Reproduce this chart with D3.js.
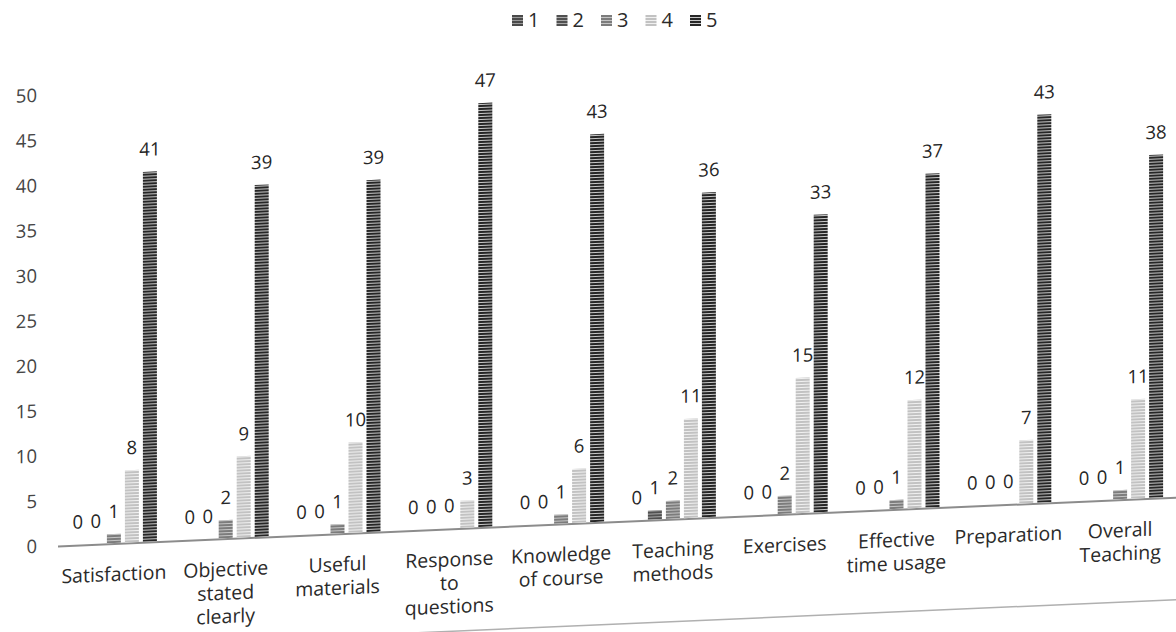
<!DOCTYPE html>
<html>
<head>
<meta charset="utf-8">
<script src="https://cdn.jsdelivr.net/npm/d3@7/dist/d3.min.js"></script>
<style>
  html, body { margin: 0; padding: 0; background: #ffffff; }
  svg { display: block; }
  text { font-family: "Open Sans", "Lato", sans-serif; }
</style>
</head>
<body>
<svg id="chart" width="1176" height="632"></svg>
<script>
// Course evaluation: number of responses per rating (1-5) for each item
const categories = [
  "Satisfaction",
  "Objective\nstated\nclearly",
  "Useful\nmaterials",
  "Response\nto\nquestions",
  "Knowledge\nof course",
  "Teaching\nmethods",
  "Exercises",
  "Effective\ntime usage",
  "Preparation",
  "Overall\nTeaching"
];
const ratings = ["1", "2", "3", "4", "5"];
const rating1 = [0, 0, 0, 0, 0, 0, 0, 0, 0, 0];
const rating2 = [0, 0, 0, 0, 0, 1, 0, 0, 0, 0];
const rating3 = [1, 2, 1, 0, 1, 2, 2, 1, 0, 1];
const rating4 = [8, 9, 10, 3, 6, 11, 15, 12, 7, 11];
const rating5 = [41, 39, 39, 47, 43, 36, 33, 37, 43, 38];
const yTicks = [0, 5, 10, 15, 20, 25, 30, 35, 40, 45, 50];

const seriesValues = [rating1, rating2, rating3, rating4, rating5];
const rows = categories.map((c, i) => ({
  category: c,
  values: ratings.map((r, k) => ({ rating: r, value: seriesValues[k][i] }))
}));

const svg = d3.select("#chart");
const defs = svg.append("defs");

// striped fills, one per rating
const fills = [
  { base: "#4a4a4a", line: "#9a9a9a" },
  { base: "#505050", line: "#a8a8a8" },
  { base: "#7c7c7c", line: "#c4c4c4" },
  { base: "#c2c2c2", line: "#f0f0f0" },
  { base: "#262626", line: "#c8c8c8" }
];
fills.forEach((f, k) => {
  const p = defs.append("pattern")
    .attr("id", "fill" + k)
    .attr("patternUnits", "userSpaceOnUse")
    .attr("width", 6).attr("height", 3);
  p.append("rect").attr("width", 6).attr("height", 3).attr("fill", f.base);
  p.append("rect").attr("y", 2).attr("width", 6).attr("height", 1).attr("fill", f.line);
});

// the plot sits on a slightly tilted page
const tilt = -2.5;
const g = svg.append("g").attr("transform", `skewY(${tilt})`);

const x0 = d3.scaleBand().domain(categories).range([58, 1176]).padding(0);
const clusterW = 90;
const x1 = d3.scaleBand().domain(ratings).range([0, clusterW])
  .paddingInner(0.222).paddingOuter(0.111);
const y = d3.scaleLinear().domain([0, 50]).range([548, 97]);

// y axis labels (no line, no ticks)
const yAxis = d3.axisLeft(y).tickValues(yTicks).tickSize(0).tickPadding(0);
const ya = g.append("g").attr("transform", "translate(37,0)").call(yAxis);
ya.select(".domain").remove();
ya.selectAll("text")
  .attr("font-family", "'Open Sans', Lato, sans-serif")
  .attr("font-size", 18.5)
  .attr("fill", "#454545");

// category axis line
g.append("line")
  .attr("x1", 58).attr("x2", 1176)
  .attr("y1", y(0) + 1).attr("y2", y(0) + 1)
  .attr("stroke", "#8c8c8c").attr("stroke-width", 2);

// faint frame line at the bottom
g.append("line")
  .attr("x1", 0).attr("x2", 1176)
  .attr("y1", 651).attr("y2", 651)
  .attr("stroke", "#b0b0b0").attr("stroke-width", 1.5);

const groups = g.selectAll("g.cat").data(rows).join("g")
  .attr("class", "cat")
  .attr("transform", d => `translate(${x0(d.category) + (x0.bandwidth() - clusterW) / 2},0)`);

groups.selectAll("rect").data(d => d.values).join("rect")
  .attr("x", d => x1(d.rating))
  .attr("width", x1.bandwidth())
  .attr("y", d => y(d.value))
  .attr("height", d => y(0) - y(d.value))
  .attr("fill", (d, i) => `url(#fill${i})`);

groups.selectAll("text.val").data(d => d.values).join("text")
  .attr("class", "val")
  .attr("x", d => x1(d.rating) + x1.bandwidth() / 2)
  .attr("y", d => y(d.value) - 16)
  .attr("text-anchor", "middle")
  .attr("font-size", 18.5)
  .attr("fill", "#262626")
  .text(d => d.value);

// category labels, wrapped on line breaks
const catLabels = g.selectAll("text.cat").data(categories).join("text")
  .attr("class", "cat")
  .attr("text-anchor", "middle")
  .attr("font-size", 19.5)
  .attr("fill", "#2a2a2a")
  .attr("transform", d => `translate(${x0(d) + x0.bandwidth() / 2},${y(0) + 38})`);
catLabels.each(function (d) {
  const t = d3.select(this);
  d.split("\n").forEach((line, i) => {
    t.append("tspan").attr("x", 0).attr("y", i * 23.5).text(line);
  });
});

// legend
const legend = svg.append("g").attr("transform", "translate(512,15)");
const items = legend.selectAll("g").data(ratings).join("g")
  .attr("transform", (d, i) => `translate(${i * 44.5},0)`);
items.append("rect")
  .attr("width", 11).attr("height", 11)
  .attr("fill", (d, i) => `url(#fill${i})`);
items.append("text")
  .attr("x", 16).attr("y", 12)
  .attr("font-size", 20)
  .attr("fill", "#2a2a2a")
  .text(d => d);
</script>
</body>
</html>
